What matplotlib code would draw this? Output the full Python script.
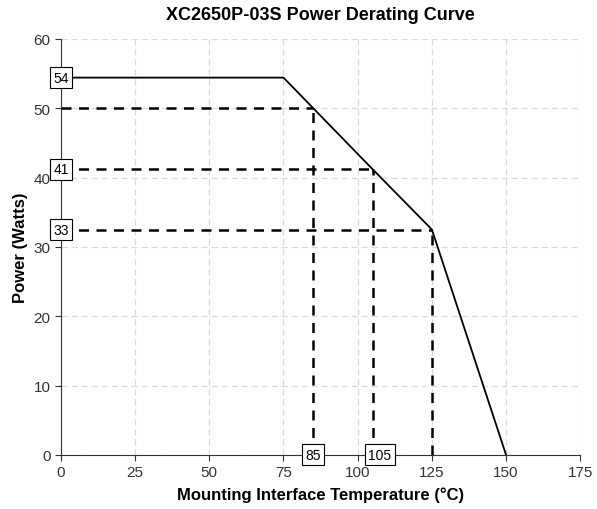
import matplotlib
matplotlib.use("Agg")
import matplotlib.pyplot as plt

# derating curve breakpoints
temps = [0, 75, 85, 105, 125, 150]
power = [54.4, 54.4, 50.0, 41.2, 32.5, 0]

# dashed guide points (temperature, power)
guide_t = [85, 105, 125]
guide_p = [50.0, 41.2, 32.5]

# boxed annotations (position along axis, text)
y_labels = [(54.4, "54"), (41.2, "41"), (32.5, "33")]
x_labels = [(85, "85"), (107.5, "105")]

plt.rcParams["font.family"] = ["Liberation Sans", "DejaVu Sans"]

fig = plt.figure(figsize=(5.97, 5.10), dpi=100)
ax = fig.add_axes([0.102, 0.106, 0.870, 0.816])

ax.set_xlim(0, 175)
ax.set_ylim(0, 60)
ax.set_xticks(range(0, 176, 25))
ax.set_yticks(range(0, 61, 10))
ax.grid(True, color="#d9d9d9", linestyle=(0, (5, 3)), linewidth=0.9)
ax.set_axisbelow(True)
for side in ["top", "right"]:
    ax.spines[side].set_visible(False)
for side in ["left", "bottom"]:
    ax.spines[side].set_color("#333333")
ax.tick_params(direction="out", length=4, labelsize=11, colors="#333333")

# guide lines
for t, p in zip(guide_t, guide_p):
    ax.plot([0, t], [p, p], color="black", lw=1.8, ls=(0, (4, 3)), zorder=2)
    ax.plot([t, t], [0, p], color="black", lw=1.8, ls=(0, (4, 3)), zorder=2)

ax.plot(temps, power, color="black", lw=1.3, zorder=3)

box = dict(boxstyle="square,pad=0.25", fc="white", ec="black", lw=0.8)
for p, txt in y_labels:
    ax.text(0, p, txt, ha="center", va="center", fontsize=10, bbox=box,
            zorder=5, clip_on=False)
for t, txt in x_labels:
    ax.text(t, 0, txt, ha="center", va="center", fontsize=10, bbox=box,
            zorder=5, clip_on=False)

ax.set_title("XC2650P-03S Power Derating Curve", fontsize=13,
             fontweight="bold", pad=14)
ax.set_xlabel("Mounting Interface Temperature (°C)", fontsize=12,
              fontweight="bold", labelpad=5)
ax.set_ylabel("Power (Watts)", fontsize=12, fontweight="bold", labelpad=4)

fig.savefig("out.png", dpi=100)
